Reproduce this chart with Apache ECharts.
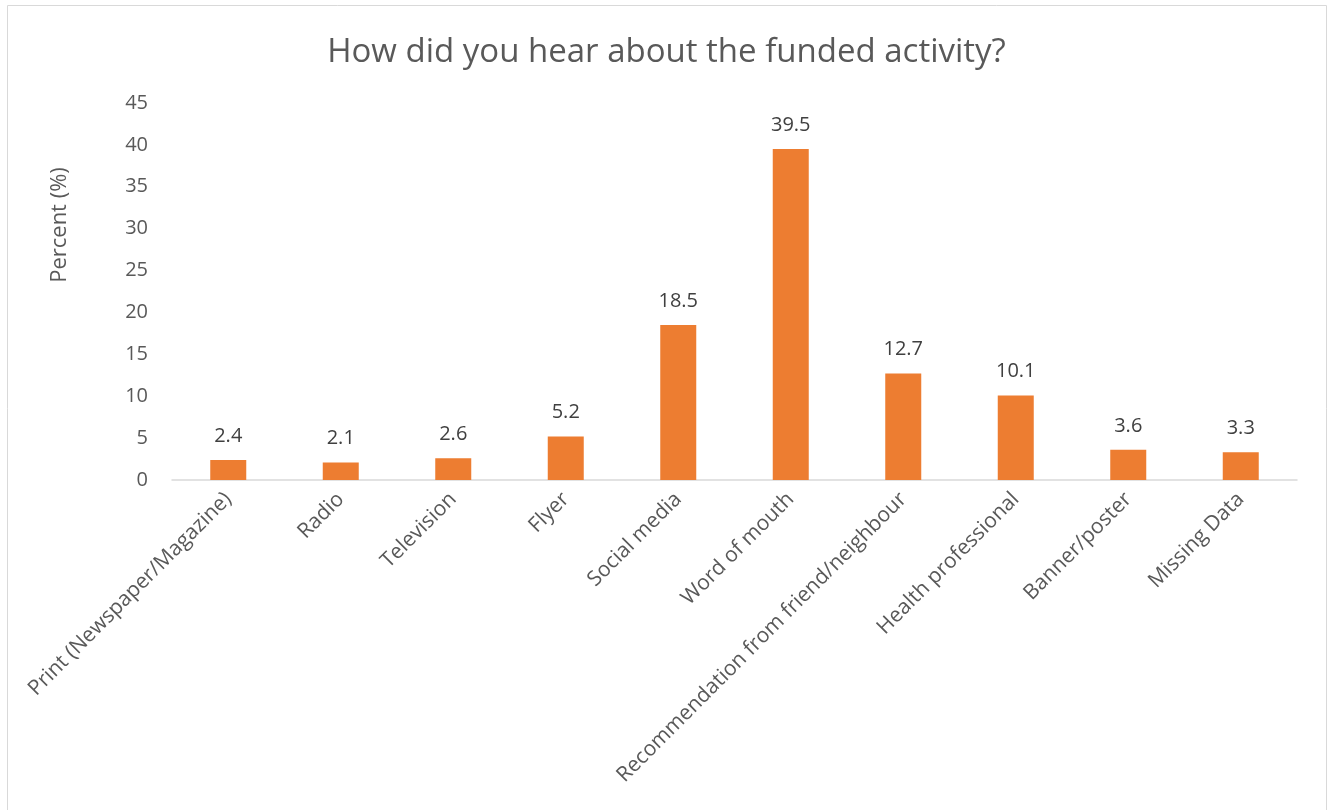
<!DOCTYPE html>
<html>
<head>
<meta charset="utf-8">
<script src="https://cdn.jsdelivr.net/npm/echarts@6/dist/echarts.min.js"></script>
<style>
  html, body { margin: 0; padding: 0; background: #fff; }
  #chart { width: 1333px; height: 810px; }
</style>
</head>
<body>
<div id="chart"></div>
<script>
// Survey responses: source of awareness of the funded activity
const categories = [
  'Print (Newspaper/Magazine)', 'Radio', 'Television', 'Flyer', 'Social media',
  'Word of mouth', 'Recommendation from friend/neighbour', 'Health professional',
  'Banner/poster', 'Missing Data'
];
const percents = [2.4, 2.1, 2.6, 5.2, 18.5, 39.5, 12.7, 10.1, 3.6, 3.3];
const yTicks = [0, 5, 10, 15, 20, 25, 30, 35, 40, 45];

const FONT = "'Open Sans', 'Liberation Sans', sans-serif";
const TEXT = '#595959';

const chart = echarts.init(document.getElementById('chart'));
chart.setOption({
  animation: false,
  title: {
    text: 'How did you hear about the funded activity?',
    left: 'center',
    top: 31,
    textStyle: { fontFamily: FONT, fontSize: 33, fontWeight: 'normal', color: TEXT }
  },
  graphic: [
    {
      type: 'rect',
      shape: { x: 7.5, y: 5.5, width: 1319, height: 820 },
      style: { fill: 'none', stroke: '#d9d9d9', lineWidth: 1 }
    },
    {
      type: 'text',
      x: 60, y: 225,
      rotation: Math.PI / 2,
      style: {
        text: 'Percent (%)', fill: TEXT, fontFamily: FONT, fontSize: 22,
        align: 'center', verticalAlign: 'middle'
      }
    }
  ],
  grid: { left: 172, right: 36, top: 103, bottom: 330, containLabel: false },
  xAxis: {
    type: 'category',
    data: categories,
    axisLine: { lineStyle: { color: '#d9d9d9', width: 1.5 } },
    axisTick: { show: false },
    axisLabel: {
      interval: 0, rotate: 45, margin: 16,
      fontFamily: FONT, fontSize: 21, color: TEXT
    }
  },
  yAxis: {
    type: 'value',
    min: yTicks[0],
    max: yTicks[yTicks.length - 1],
    interval: yTicks[1] - yTicks[0],
    splitLine: { show: false },
    axisLine: { show: false },
    axisTick: { show: false },
    axisLabel: { fontFamily: FONT, fontSize: 20, color: TEXT, margin: 24 }
  },
  series: [{
    type: 'bar',
    data: percents,
    barWidth: 36,
    itemStyle: { color: '#ED7D31' },
    label: {
      show: true, position: 'top', distance: 14,
      fontFamily: FONT, fontSize: 20, color: '#404040'
    }
  }]
});
</script>
</body>
</html>
